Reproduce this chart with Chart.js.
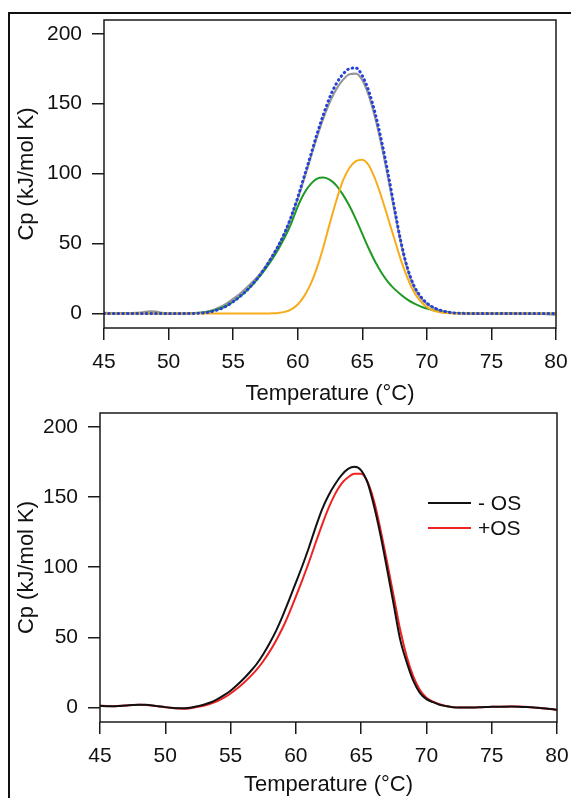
<!DOCTYPE html>
<html lang="en">
<head>
  <meta charset="UTF-8" />
  <title>DSC Cp curves</title>
  <script src="https://cdn.jsdelivr.net/npm/chart.js"></script>
  <style>
    body { margin: 0; background: #fff; width: 571px; height: 798px; overflow: hidden; position: relative; }
    #frame { position: absolute; left: 8px; top: 12px; width: 620px; height: 820px; border-top: 2px solid #111; border-left: 2px solid #111; }
    .wrap { position: absolute; left: 0; width: 571px; }
  </style>
</head>
<body>
  <div id="frame"></div>
  <div class="wrap" style="top:0;height:410px"><canvas id="topChart"></canvas></div>
  <div class="wrap" style="top:400px;height:398px"><canvas id="bottomChart"></canvas></div>

  <script>
    // temperature grid (°C)
    const temps = [45, 45.5, 46, 46.5, 47, 47.5, 48, 48.5, 49, 49.5,
      50, 50.5, 51, 51.5, 52, 52.5, 53, 53.5, 54, 54.5,
      55, 55.5, 56, 56.5, 57, 57.5, 58, 58.5, 59, 59.5,
      60, 60.5, 61, 61.5, 62, 62.5, 63, 63.5, 64, 64.5,
      65, 65.5, 66, 66.5, 67, 67.5, 68, 68.5, 69, 69.5,
      70, 70.5, 71, 71.5, 72, 72.5, 73, 73.5, 74, 74.5,
      75, 75.5, 76, 76.5, 77, 77.5, 78, 78.5, 79, 79.5, 80];

    // top panel: measured curve, fitted sum and two components
    const measured = [0.6, 0.3, 0.2, 0.3, 0.4, 0.5, 0.8, 1.6, 1.5, 0.5,
      0, -0.1, 0, 0.1, 0.3, 0.7, 1.4, 2.7, 4.7, 7.3,
      10.5, 14, 18, 22.5, 27.5, 33.5, 40.5, 48.5, 57.5, 69,
      82, 96.5, 111.5, 126.5, 140, 151.5, 160.5, 167, 171, 171.5,
      167, 156, 140, 120, 97, 73, 50, 31.5, 19, 11.5,
      7, 4.2, 2.3, 1.2, 0.5, 0.2, 0, 0, 0, 0,
      0, 0, 0.1, 0.1, 0, 0, -0.1, -0.2, -0.3, -0.5, -0.8];
    const fitSum = [0, 0, 0, 0, 0, 0, 0, 0, 0, 0,
      0, 0, 0, 0, 0.1, 0.3, 0.8, 1.8, 3.3, 5.5,
      8.5, 12, 16, 21, 26.5, 33, 40.5, 48.5, 58, 69.5,
      83, 98, 113, 128.5, 142.5, 155, 164.5, 171, 175, 175.5,
      170, 159, 143, 123, 100, 75, 51, 32.5, 20, 12.5,
      7.5, 4.5, 2.5, 1.3, 0.6, 0.3, 0.1, 0, 0, 0,
      0, 0, 0, 0, 0, 0, 0, 0, 0, 0, 0];
    const peak1 = [0, 0, 0, 0, 0, 0, 0, 0, 0, 0,
      0, 0, 0, 0, 0.3, 0.6, 1.2, 2.2, 3.6, 5.6,
      8.5, 12, 16, 20.5, 26, 32, 38.5, 46, 54.5, 64.5,
      76.5, 86, 92.5, 96.5, 97.3, 95.5, 91.5, 85, 77, 67.5,
      57, 46.5, 37, 29, 22.5, 17.5, 13.5, 10, 7.3, 5.2,
      3.6, 2.4, 1.5, 0.9, 0.5, 0.3, 0.1, 0, 0, 0,
      0, 0, 0, 0, 0, 0, 0, 0, 0, 0, 0];
    const peak2 = [0, 0, 0, 0, 0, 0, 0, 0, 0, 0,
      0, 0, 0, 0, 0, 0, 0, 0, 0, 0,
      0, 0, 0, 0, 0, 0, 0.2, 0.5, 1.2, 3,
      6.5, 12.5, 21, 33, 48, 65, 81, 95, 104, 109,
      110, 106, 96, 83, 68, 53, 38, 25.5, 15.5, 9,
      4.7, 2.2, 1, 0.4, 0.1, 0, 0, 0, 0, 0,
      0, 0, 0, 0, 0, 0, 0, 0, 0, 0, 0];

    // bottom panel: without / with OS
    const minusOS = [1.2, 1.0, 0.9, 1.1, 1.4, 1.8, 2.0, 1.9, 1.5, 0.9,
      0.3, -0.2, -0.5, -0.5, 0, 1, 2.2, 3.8, 6, 8.8,
      12, 16, 20.5, 25.5, 31, 38, 46, 55, 65.5, 77,
      89, 101, 114, 128, 141, 151, 159, 165.5, 170, 171.5,
      169, 160, 143, 122, 98, 73, 48, 32, 19, 10.5,
      6, 3.8, 2, 1, 0.2, 0, 0, 0, 0.2, 0.3,
      0.5, 0.5, 0.6, 0.7, 0.6, 0.4, 0.2, -0.2, -0.5, -1, -1.5];
    const plusOS = [1.3, 1.1, 1.0, 1.2, 1.5, 1.8, 2.0, 1.8, 1.4, 0.8,
      0.2, -0.3, -0.7, -0.8, -0.3, 0.5, 1.5, 2.8, 4.6, 7,
      10, 13.5, 17.5, 22, 27, 33, 40, 48, 57, 67.5,
      79, 91, 103.5, 117, 130, 142, 152, 159.5, 164, 166.5,
      166.5, 160.5, 146.5, 126, 103, 79, 55, 36, 22, 12.5,
      7, 4.2, 2.3, 1.1, 0.3, 0, 0, 0, 0.2, 0.4,
      0.5, 0.6, 0.7, 0.8, 0.7, 0.5, 0.2, -0.2, -0.6, -1.1, -1.7];

    const xTicks = [45, 50, 55, 60, 65, 70, 75, 80];
    const yTicks = [0, 50, 100, 150, 200];

    const FONT = 'Arial, "Liberation Sans", sans-serif';
    const pts = arr => temps.map((t, i) => ({ x: t, y: arr[i] }));

    // plot frame around the chart area
    const boxPlugin = {
      id: 'box',
      afterDatasetsDraw(chart) {
        const { ctx, chartArea: a } = chart;
        ctx.save();
        ctx.strokeStyle = '#1a1a1a';
        ctx.lineWidth = 1.5;
        ctx.strokeRect(a.left, a.top, a.right - a.left, a.bottom - a.top);
        ctx.restore();
      }
    };

    // simple line legend inside the plot
    const lineLegend = {
      id: 'lineLegend',
      afterDraw(chart, args, opts) {
        if (!opts.show) return;
        const ctx = chart.ctx;
        ctx.save();
        ctx.font = '21px ' + FONT;
        ctx.textBaseline = 'middle';
        chart.data.datasets.forEach((ds, i) => {
          const y = opts.y + i * opts.gap;
          ctx.strokeStyle = ds.borderColor;
          ctx.lineWidth = 2;
          ctx.beginPath();
          ctx.moveTo(opts.x, y);
          ctx.lineTo(opts.x + 43, y);
          ctx.stroke();
          ctx.fillStyle = '#111';
          ctx.fillText(ds.label, opts.x + 50, y + 1);
        });
        ctx.restore();
      }
    };

    function makeOptions(yWidth, xHeight, padTop, padRight, titlePadBottom, legend) {
      return {
        responsive: true,
        maintainAspectRatio: false,
        animation: false,
        layout: { padding: { top: padTop, right: padRight, left: 0, bottom: 0 } },
        elements: { point: { radius: 0 }, line: { cubicInterpolationMode: 'monotone' } },
        plugins: {
          legend: { display: false },
          tooltip: { enabled: false },
          lineLegend: legend
        },
        scales: {
          x: {
            type: 'linear', min: 45, max: 80,
            afterBuildTicks: s => { s.ticks = xTicks.map(v => ({ value: v })); },
            afterFit: s => { s.height = xHeight; s.paddingLeft = 0; s.paddingRight = 0; },
            border: { display: false },
            grid: { drawOnChartArea: false, drawTicks: true, tickLength: 12, tickColor: '#1a1a1a', lineWidth: 1.5 },
            ticks: { color: '#111', font: { family: FONT, size: 21 }, padding: 10, maxRotation: 0 },
            title: { display: true, text: 'Temperature (°C)', color: '#111', font: { family: FONT, size: 22 }, padding: { top: 0, bottom: titlePadBottom } }
          },
          y: {
            min: -10.3, max: 209.8,
            afterBuildTicks: s => { s.ticks = yTicks.map(v => ({ value: v })); },
            afterFit: s => { s.width = yWidth; s.paddingTop = 0; s.paddingBottom = 0; },
            border: { display: false },
            grid: { drawOnChartArea: false, drawTicks: true, tickLength: 12, tickColor: '#1a1a1a', lineWidth: 1.5 },
            ticks: { color: '#111', font: { family: FONT, size: 21 }, padding: 10 },
            title: { display: true, text: 'Cp (kJ/mol K)', color: '#111', font: { family: FONT, size: 22 }, padding: { top: 14, bottom: 0 } }
          }
        }
      };
    }

    new Chart(document.getElementById('topChart'), {
      type: 'line',
      data: {
        datasets: [
          { label: 'fit', data: pts(fitSum), borderColor: '#2541d9', borderWidth: 3, borderDash: [0.5, 4.2], borderCapStyle: 'round' },
          { label: 'peak 2', data: pts(peak2), borderColor: '#f7ac1b', borderWidth: 2 },
          { label: 'peak 1', data: pts(peak1), borderColor: '#1e9a24', borderWidth: 2 },
          { label: 'measured', data: pts(measured), borderColor: '#969696', borderWidth: 2.2 }
        ]
      },
      options: makeOptions(104, 82, 20, 15, 3, { show: false }),
      plugins: [boxPlugin, lineLegend]
    });

    new Chart(document.getElementById('bottomChart'), {
      type: 'line',
      data: {
        datasets: [
          { label: '- OS', data: pts(minusOS), borderColor: '#111111', borderWidth: 2 },
          { label: '+OS', data: pts(plusOS), borderColor: '#ee2222', borderWidth: 2 }
        ]
      },
      options: makeOptions(100, 76, 13, 14, 0, { show: true, x: 428, y: 103, gap: 25 }),
      plugins: [boxPlugin, lineLegend]
    });
  </script>
</body>
</html>
